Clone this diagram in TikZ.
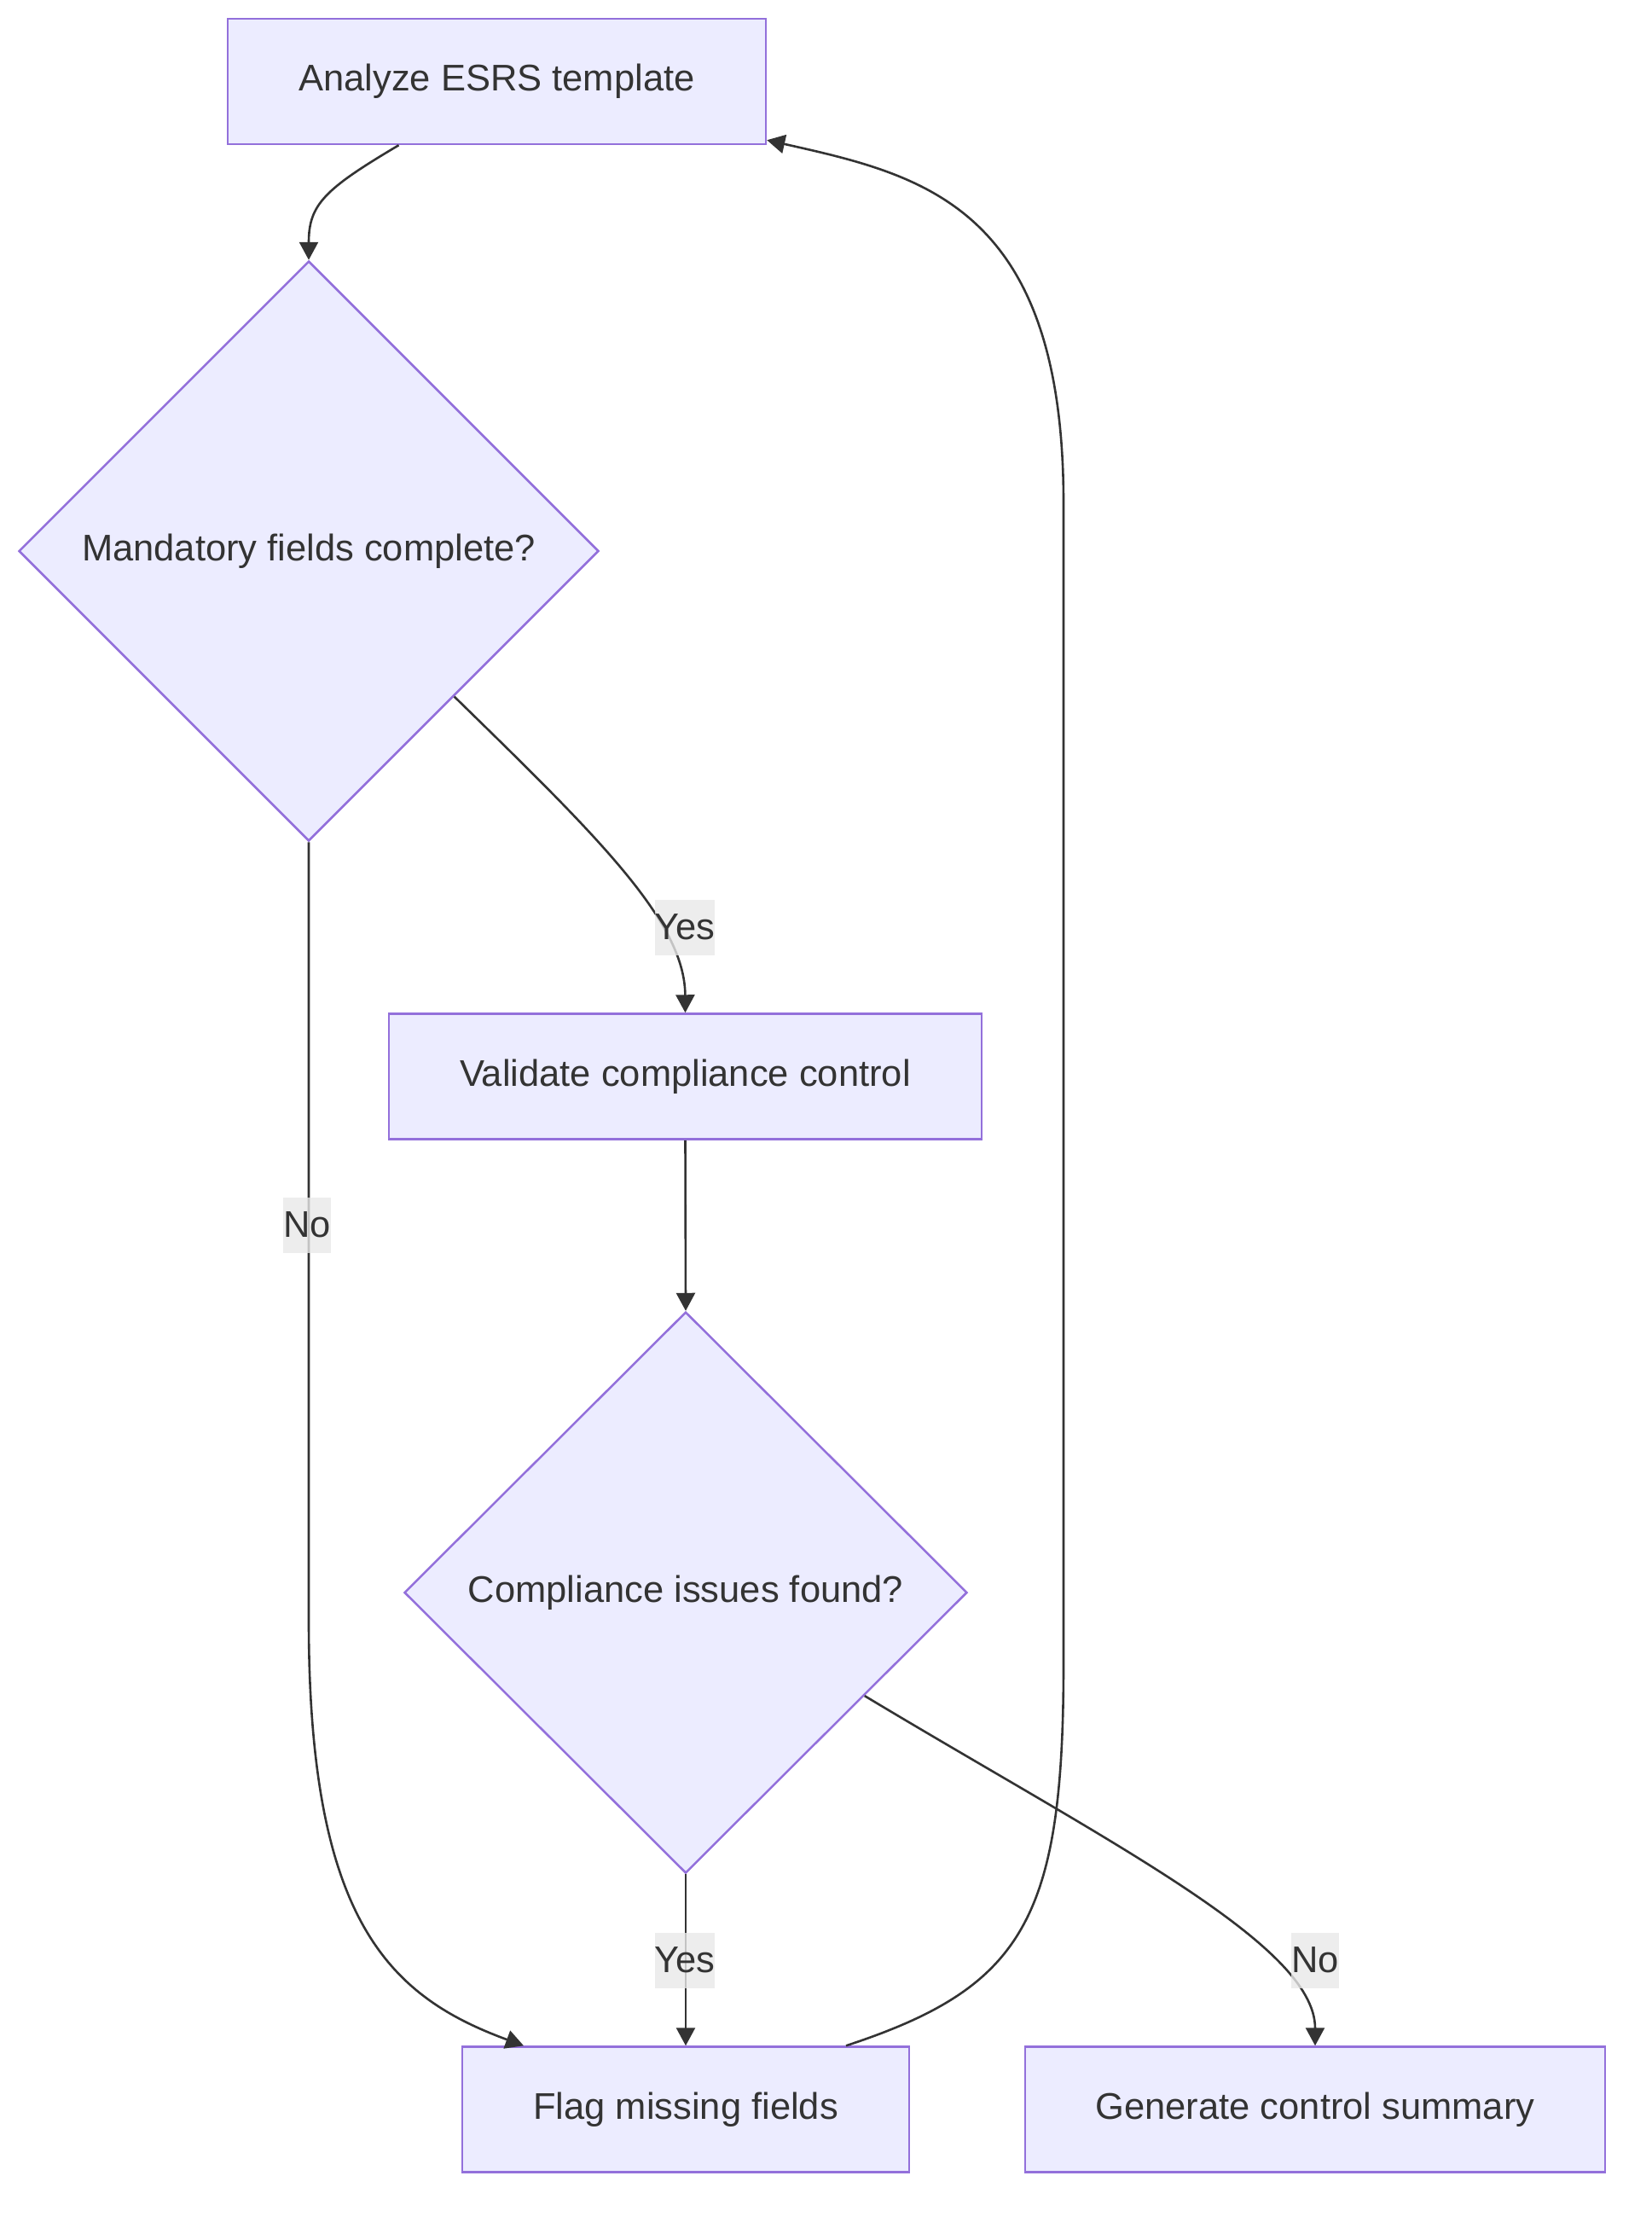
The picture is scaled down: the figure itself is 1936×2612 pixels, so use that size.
\documentclass[tikz,border=0pt]{standalone}
\usepackage{fontspec}
\setmainfont{Liberation Sans}
\usetikzlibrary{shapes.geometric,arrows.meta}
\definecolor{nodefill}{HTML}{ECECFF}
\definecolor{nodeline}{HTML}{9370DB}
\definecolor{ink}{HTML}{333333}
\definecolor{labelgray}{HTML}{E8E8E8}
\begin{document}
\begin{tikzpicture}[x=1pt,y=-1pt,
  every node/.style={font=\fontsize{43.5}{52}\selectfont, text=ink},
  procbox/.style={draw=nodeline, fill=nodefill, line width=2.5pt, rectangle, inner sep=0pt, minimum height=147pt},
  decision/.style={draw=nodeline, fill=nodefill, line width=2.5pt, diamond, inner sep=0pt},
  edge/.style={draw=ink, line width=2.6pt, -{Triangle[length=21pt,width=22pt]}},
  elabel/.style={fill=labelgray, fill opacity=0.8, text opacity=1, inner xsep=0pt, inner ysep=0pt, minimum height=65pt}
]
\useasboundingbox (0,0) rectangle (1936,2612);

\node[procbox, minimum width=631pt] (a) at (582.5,95.5) {Analyze ESRS template};
\node[decision, minimum width=680pt, minimum height=680pt] (d1) at (362,646) {Mandatory fields complete?};
\node[procbox, minimum width=695pt] (v) at (803.5,1262) {Validate compliance control};
\node[decision, minimum width=660pt, minimum height=658pt] (d2) at (804,1867) {Compliance issues found?};
\node[procbox, minimum width=524pt] (f) at (804,2473) {Flag missing fields};
\node[procbox, minimum width=680pt] (g) at (1542,2473) {Generate control summary};

% Analyze -> Mandatory
\draw[edge] ([xshift=-115pt]a.south) .. controls (380,222) and (362,240) .. (d1.north);

% Mandatory -> Validate (Yes)
\draw[edge] (d1.-45) .. controls (700,980) and (803,1080) .. (v.north);
\node[elabel] (l1) at (803,1087) {Yes};

% Mandatory -> Flag (No)
\coordinate (n1bend) at (362,1900);
\draw[edge] (d1.south) -- (n1bend) .. controls (362,2250) and (455,2340) .. ([xshift=-190pt]f.north);
\node[elabel] (l2) at (360,1436) {No};

% Validate -> Compliance issues
\draw[edge] (v.south) -- (d2.north);

% Compliance -> Flag (Yes)
\draw[edge] (d2.south) -- (f.north);
\node[elabel] (l3) at (803,2298) {Yes};

% Compliance -> Generate (No)
\draw[edge] (d2.-30) .. controls (1300,2160) and (1542,2280) .. (g.north);
\node[elabel] (l4) at (1542,2298) {No};

% Flag -> Analyze (loop)
\coordinate (lp1) at (1247,1950);
\coordinate (lp2) at (1247,590);
\draw[edge] ([xshift=188pt]f.north) .. controls (1200,2330) and (1247,2250) .. (lp1) -- (lp2) .. controls (1247,240) and (1080,205) .. ([yshift=6pt]a.south east);
\end{tikzpicture}
\end{document}
